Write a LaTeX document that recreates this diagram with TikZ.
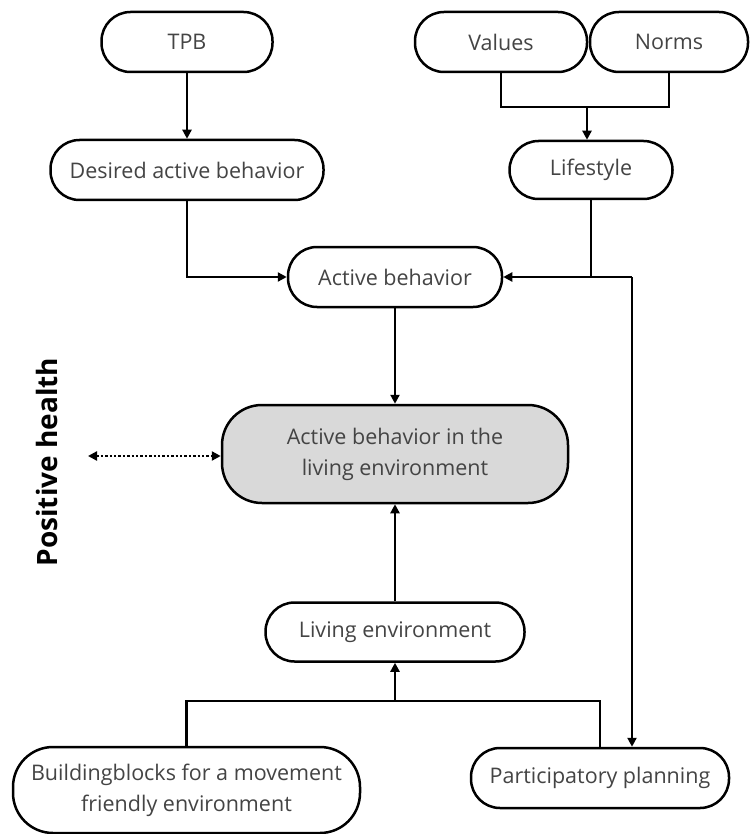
\documentclass[tikz,border=0pt]{standalone}
\usepackage{fontspec}
\setmainfont{Open Sans}
\usetikzlibrary{arrows.meta}
\definecolor{txt}{HTML}{444444}
\definecolor{boxgray}{HTML}{D9D9D9}
\begin{document}
\begin{tikzpicture}[x=1pt,y=-1pt,
  pill/.style={draw=black,line width=2.5pt,rounded corners=29pt,
    font=\fontsize{21.5}{31}\selectfont,text=txt,align=center,
    inner sep=0pt,fill=white},
  link/.style={line width=2.4pt,-{Triangle[length=9pt,width=9pt]}},
  plain/.style={line width=2.4pt}]
\useasboundingbox (0,0) rectangle (749,834);

% boxes
\node[pill,minimum width=171pt,minimum height=60pt] (tpb) at (187,42) {TPB};
\node[pill,minimum width=172pt,minimum height=60pt] (values) at (501,42) {Values};
\node[pill,minimum width=158pt,minimum height=60pt] (norms) at (669,42) {Norms};
\node[pill,minimum width=273pt,minimum height=60pt] (desired) at (187,170) {Desired active behavior};
\node[pill,minimum width=163pt,minimum height=58pt] (lifestyle) at (591,170) {Lifestyle};
\node[pill,minimum width=214pt,minimum height=60pt] (active) at (395,277) {Active behavior};
\node[pill,fill=boxgray,rounded corners=40pt,minimum width=346pt,minimum height=98pt] (core) at (395,454) {Active behavior in the\\living environment};
\node[pill,minimum width=259pt,minimum height=59pt] (living) at (395,632) {Living environment};
\node[pill,rounded corners=40pt,minimum width=347pt,minimum height=86pt] (blocks) at (186.5,790) {Buildingblocks for a movement\\friendly environment};
\node[pill,minimum width=258pt,minimum height=60pt] (particip) at (600,778) {Participatory planning};

\node[rotate=90,font=\fontsize{28}{32}\selectfont\bfseries] (health) at (47,462) {Positive health};

% junction points
\coordinate (vn) at (587,107);
\coordinate (rt) at (632,277);
\coordinate (bj) at (395,701);
\coordinate (ph) at (88,456);

% connectors
\draw[link] (tpb.south) -- (desired.north);
\draw[plain] (values.south) |- (vn) -| (norms.south);
\draw[link] (vn) -- (vn |- lifestyle.north);
\draw[link] (desired.south) |- (active.west);
\draw[plain] (lifestyle.south) -- (lifestyle.south |- rt) -- (rt);
\draw[link] (rt) -- (active.east);
\draw[link] (rt) -- (rt |- particip.north);
\draw[link] (active.south) -- (core.north);
\draw[link] (living.north) -- (core.south);
\draw[plain] (blocks.north) |- (bj) -| (particip.north);
\draw[link] (bj) -- (living.south);
\draw[line width=2.4pt,dotted,{Triangle[length=9pt,width=9pt]}-{Triangle[length=9pt,width=9pt]}] (ph) -- (core.west |- ph);
\end{tikzpicture}
\end{document}
